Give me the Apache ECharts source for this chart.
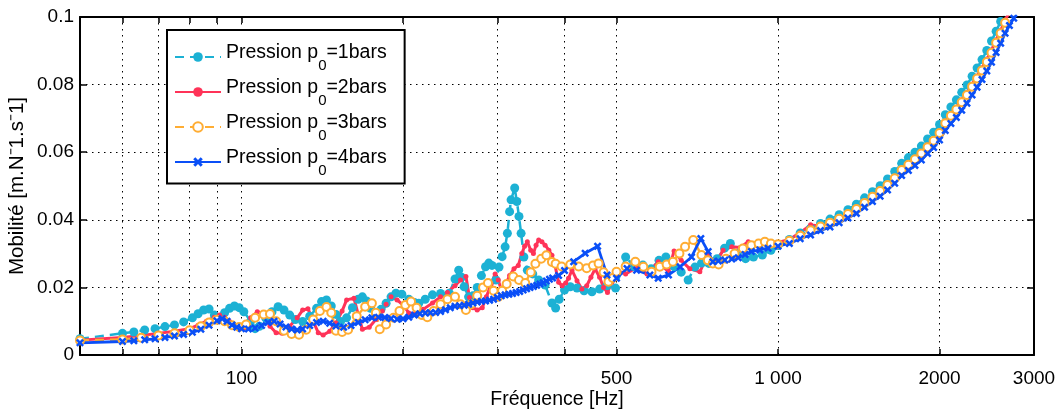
<!DOCTYPE html>
<html><head><meta charset="utf-8">
<script src="https://cdn.jsdelivr.net/npm/echarts@6/dist/echarts.min.js"></script>
<style>html,body{margin:0;padding:0;background:#fff}#c{width:1063px;height:410px}</style>
</head><body><div id="c"></div>
<script>
// [frequency Hz, mobility]
const p1bar = [[50,.0048],[60,.0064],[63,.0068],[66,.0074],[69,.0078],[72,.0084],[75,.0089],[78,.0098],[81,.0110],[83,.0122],[85,.0133],[87,.0136],[89,.0118],[91,.0110],[93,.0125],[95,.0138],[97,.0145],[99,.0140],[101,.0128],[104,.0100],[106,.0078],[108,.0085],[111,.0109],[114,.0128],[117,.0143],[120,.0133],[123,.0118],[126,.0105],[130,.0099],[134,.0115],[138,.0138],[141,.0158],[144,.0163],[147,.0145],[150,.0120],[153,.0099],[157,.0110],[161,.0140],[165,.0165],[168,.0172],[171,.0160],[174,.0138],[178,.0118],[182,.0135],[186,.0153],[190,.0172],[194,.0183],[199,.0180],[205,.0165],[210,.0155],[214,.0153],[220,.0165],[227,.0178],[235,.0182],[244,.0183],[250,.0225],[254,.0251],[257,.0230],[260,.0202],[265,.0172],[270,.0175],[275,.0200],[280,.0235],[285,.0261],[289,.0272],[293,.0265],[298,.0222],[302,.0260],[306,.0291],[310,.0320],[313,.0360],[316,.0424],[318,.0459],[323,.0494],[326,.0454],[329,.0410],[332,.0360],[336,.0290],[341,.0251],[349,.0240],[358,.0222],[368,.0207],[379,.0154],[385,.0139],[391,.0165],[400,.0192],[410,.0202],[422,.0198],[435,.0190],[450,.0187],[465,.0195],[480,.0205],[498,.0198],[520,.0290],[540,.0262],[560,.0266],[580,.0255],[600,.0280],[618,.0290],[640,.0262],[660,.0245],[680,.0222],[700,.0260],[720,.0272],[743,.0271],[770,.0285],[795,.0316],[815,.0330],[840,.0300],[870,.0285],[900,.0290],[935,.0296],[970,.0310],[1000,.0324],[1050,.0342],[1100,.0361],[1150,.0375],[1200,.0389],[1250,.0402],[1300,.0415],[1350,.0430],[1400,.0446],[1450,.0465],[1500,.0483],[1550,.0501],[1600,.0521],[1650,.0543],[1700,.0567],[1750,.0584],[1800,.0600],[1850,.0618],[1900,.0639],[1950,.0659],[2000,.0682],[2050,.0711],[2100,.0734],[2150,.0755],[2200,.0777],[2250,.0799],[2300,.0825],[2350,.0849],[2400,.0874],[2450,.0901],[2500,.0929],[2550,.0958],[2600,.0987],[2650,.1016]];
const p2bar = [[50,.0044],[60,.0052],[65,.0058],[70,.0064],[75,.0070],[80,.0078],[83,.0088],[86,.0100],[89,.0112],[91,.0118],[93,.0112],[95,.0099],[97,.0082],[99,.0078],[101,.0080],[104,.0110],[107,.0128],[110,.0122],[113,.0085],[116,.0066],[119,.0064],[123,.0085],[127,.0110],[130,.0133],[133,.0137],[136,.0100],[139,.0066],[142,.0059],[146,.0070],[150,.0095],[154,.0130],[157,.0163],[162,.0168],[165,.0120],[168,.0076],[173,.0082],[178,.0105],[183,.0130],[186,.0150],[190,.0172],[195,.0163],[201,.0145],[205,.0124],[210,.0122],[218,.0135],[227,.0154],[235,.0172],[242,.0185],[250,.0205],[256,.0222],[262,.0232],[266,.0170],[270,.0140],[275,.0133],[281,.0140],[286,.0172],[292,.0210],[297,.0240],[301,.0222],[305,.0192],[310,.0205],[316,.0235],[322,.0255],[328,.0265],[333,.0300],[337,.0322],[341,.0335],[346,.0310],[350,.0300],[354,.0325],[358,.0340],[363,.0335],[368,.0325],[374,.0310],[379,.0295],[384,.0265],[390,.0215],[396,.0205],[402,.0213],[407,.0227],[413,.0251],[422,.0220],[431,.0195],[440,.0205],[448,.0230],[456,.0255],[465,.0230],[473,.0200],[481,.0185],[490,.0215],[500,.0250],[520,.0240],[545,.0258],[570,.0240],[598,.0276],[625,.0246],[640,.0308],[660,.0280],[685,.0255],[715,.0246],[741,.0300],[763,.0268],[790,.0310],[820,.0320],[850,.0318],[880,.0335],[905,.0328],[931,.0330],[960,.0328],[1000,.0333],[1050,.0342],[1100,.0362],[1150,.0385],[1200,.0382],[1250,.0393],[1300,.0405],[1350,.0419],[1400,.0434],[1450,.0453],[1500,.0471],[1550,.0488],[1600,.0507],[1650,.0528],[1700,.0552],[1750,.0568],[1800,.0584],[1850,.0601],[1900,.0621],[1950,.0640],[2000,.0663],[2050,.0692],[2100,.0714],[2150,.0733],[2200,.0755],[2250,.0776],[2300,.0801],[2350,.0825],[2400,.0849],[2450,.0875],[2500,.0902],[2550,.0932],[2600,.0960],[2650,.0991],[2700,.1014]];
const p3bar = [[50,.0043],[60,.0046],[65,.0051],[70,.0058],[75,.0064],[80,.0073],[84,.0085],[87,.0096],[90,.0104],[93,.0100],[96,.0088],[99,.0083],[102,.0090],[106,.0110],[110,.0120],[113,.0121],[116,.0100],[120,.0072],[124,.0062],[128,.0060],[132,.0075],[136,.0105],[140,.0130],[144,.0142],[147,.0125],[150,.0072],[154,.0068],[158,.0075],[164,.0115],[170,.0143],[175,.0153],[178,.0125],[181,.0076],[186,.0090],[192,.0110],[197,.0130],[202,.0148],[207,.0158],[212,.0140],[217,.0118],[222,.0112],[228,.0130],[235,.0150],[242,.0165],[250,.0172],[256,.0150],[262,.0133],[268,.0150],[275,.0175],[282,.0200],[288,.0213],[295,.0190],[301,.0172],[306,.0190],[312,.0210],[321,.0232],[329,.0222],[338,.0213],[346,.0245],[353,.0270],[362,.0285],[370,.0295],[379,.0275],[385,.0270],[395,.0262],[410,.0268],[425,.0262],[440,.0257],[452,.0265],[463,.0271],[473,.0245],[483,.0217],[492,.0228],[500,.0246],[520,.0262],[542,.0276],[561,.0261],[581,.0246],[602,.0261],[620,.0268],[637,.0276],[655,.0300],[671,.0320],[695,.0340],[720,.0296],[740,.0280],[756,.0271],[775,.0268],[800,.0285],[830,.0300],[860,.0315],[892,.0325],[920,.0330],[945,.0335],[970,.0330],[1000,.0328],[1050,.0338],[1100,.0353],[1150,.0369],[1200,.0380],[1250,.0391],[1300,.0403],[1350,.0417],[1400,.0432],[1450,.0450],[1500,.0468],[1550,.0485],[1600,.0503],[1650,.0523],[1700,.0547],[1750,.0563],[1800,.0579],[1850,.0596],[1900,.0615],[1950,.0634],[2000,.0657],[2050,.0686],[2100,.0708],[2150,.0726],[2200,.0748],[2250,.0769],[2300,.0794],[2350,.0818],[2400,.0842],[2450,.0867],[2500,.0894],[2550,.0924],[2600,.0952],[2650,.0983],[2700,.1006],[2750,.1028]];
const p4bar = [[50,.0036],[60,.0040],[63,.0042],[66,.0045],[69,.0048],[72,.0052],[75,.0056],[78,.0061],[81,.0067],[84,.0076],[87,.0088],[90,.0101],[92,.0107],[94,.0100],[96,.0089],[98,.0082],[100,.0078],[103,.0077],[106,.0080],[109,.0087],[112,.0096],[115,.0100],[118,.0092],[121,.0083],[124,.0077],[127,.0074],[130,.0077],[134,.0087],[138,.0096],[142,.0100],[146,.0094],[150,.0086],[155,.0082],[160,.0087],[165,.0096],[170,.0104],[175,.0110],[180,.0112],[185,.0111],[190,.0108],[195,.0106],[200,.0107],[205,.0112],[210,.0118],[215,.0122],[220,.0124],[225,.0125],[230,.0126],[235,.0129],[240,.0134],[245,.0140],[250,.0144],[255,.0146],[260,.0147],[265,.0150],[270,.0154],[275,.0157],[280,.0159],[285,.0160],[290,.0162],[295,.0165],[300,.0170],[305,.0175],[310,.0178],[315,.0180],[320,.0182],[325,.0185],[330,.0188],[335,.0192],[340,.0196],[345,.0200],[350,.0203],[355,.0206],[360,.0210],[365,.0214],[370,.0219],[375,.0224],[380,.0228],[390,.0235],[400,.0250],[416,.0276],[437,.0301],[461,.0322],[480,.0237],[500,.0227],[523,.0256],[545,.0251],[577,.0237],[598,.0227],[625,.0237],[657,.0261],[690,.0290],[718,.0345],[741,.0306],[756,.0276],[774,.0278],[796,.0281],[820,.0284],[843,.0288],[868,.0297],[892,.0306],[925,.0311],[958,.0316],[1000,.0322],[1050,.0330],[1100,.0344],[1150,.0355],[1200,.0368],[1250,.0379],[1300,.0391],[1350,.0405],[1400,.0419],[1450,.0437],[1500,.0454],[1550,.0470],[1600,.0488],[1650,.0508],[1700,.0531],[1750,.0546],[1800,.0561],[1850,.0577],[1900,.0596],[1950,.0614],[2000,.0636],[2050,.0664],[2100,.0685],[2150,.0703],[2200,.0724],[2250,.0745],[2300,.0769],[2350,.0792],[2400,.0815],[2450,.0840],[2500,.0866],[2550,.0895],[2600,.0922],[2650,.0952],[2700,.0975],[2750,.0996],[2800,.1018]];

const seriesNames = ['Pression p0=1bars','Pression p0=2bars','Pression p0=3bars','Pression p0=4bars'];
const xTickValues = [60,70,80,90,100,200,300,400,500,1000,2000,3000];
const xLabelValues = [100,500,1000,2000,3000];

const FONT = 'Liberation Sans, Arial, Helvetica, sans-serif';
const cyan = '#1cb1d4', red = '#ff3358', orange = '#ffad33', blue = '#0a4ff7';
const xMark = 'path://M0,2.2L2.2,0L5,2.8L7.8,0L10,2.2L7.2,5L10,7.8L7.8,10L5,7.2L2.2,10L0,7.8L2.8,5Z';
const gridDots = {color:'#000', width:1, type:[1.5,4.5]};

const chart = echarts.init(document.getElementById('c'), null, {renderer:'canvas'});

function xAxisBase(pos){
  return {
    type:'log', logBase:10, min:50, max:3000, position:pos,
    axisLine:{show:true, onZero:false, lineStyle:{color:'#000', width:2}},
    axisTick:{show:true, inside:true, length:6, customValues:xTickValues, lineStyle:{color:'#000', width:1.5}},
    minorTick:{show:false}, minorSplitLine:{show:false}
  };
}
function yAxisBase(pos){
  return {
    type:'value', min:0, max:0.1, interval:0.02, position:pos,
    axisLine:{show:true, onZero:false, lineStyle:{color:'#000', width:2}},
    axisTick:{show:true, inside:true, length:7, lineStyle:{color:'#000', width:1.5}}
  };
}

const bottomX = Object.assign(xAxisBase('bottom'), {
  axisLabel:{show:true, customValues:xLabelValues, color:'#000', fontFamily:FONT, fontSize:19, margin:14,
    formatter: v => (Math.round(v) === 1000 ? '1 000' : String(Math.round(v)))},
  splitLine:{show:true, lineStyle:gridDots},
  name:'Fréquence [Hz]', nameLocation:'middle', nameGap:35, nameMoveOverlap:false,
  nameTextStyle:{color:'#000', fontFamily:FONT, fontSize:19.5}
});
const topX = Object.assign(xAxisBase('top'), {axisLabel:{show:false}, splitLine:{show:false}});
const leftY = Object.assign(yAxisBase('left'), {
  axisLabel:{show:true, color:'#000', fontFamily:FONT, fontSize:19, margin:6,
    formatter: v => String(+v.toFixed(2))},
  splitLine:{show:true, lineStyle:gridDots},
  name:'Mobilité [m.N⁻1.s⁻1]', nameLocation:'middle', nameGap:52, nameMoveOverlap:false,
  nameTextStyle:{color:'#000', fontFamily:FONT, fontSize:20.5}
});
const rightY = Object.assign(yAxisBase('right'), {axisLabel:{show:false}, splitLine:{show:false}});

const styles = [
  {color:cyan, symbol:'circle', size:9, type:[9,6], width:2.5},
  {color:red, symbol:'circle', size:5, type:'solid', width:3},
  {color:orange, symbol:'emptyCircle', size:8, type:[9,6], width:2.5},
  {color:blue, symbol:xMark, size:8, type:'solid', width:2.8}
];
const datasets = [p1bar, p2bar, p3bar, p4bar];

const series = datasets.map((d, i) => ({
  name: seriesNames[i], type:'line', xAxisIndex:0, yAxisIndex:0,
  data: d, symbol: styles[i].symbol, symbolSize: styles[i].size,
  showSymbol:true, showAllSymbol:true, clip:true,
  lineStyle:{color:styles[i].color, width:styles[i].width, type:styles[i].type},
  itemStyle: styles[i].symbol === 'emptyCircle'
    ? {color:styles[i].color, borderColor:styles[i].color, borderWidth:2.2}
    : {color:styles[i].color, borderWidth:0},
  emphasis:{disabled:true}
}));

chart.setOption({
  animation:false,
  backgroundColor:'#fff',
  grid:{left:80, right:29, top:17, bottom:55, containLabel:false, outerBoundsMode:'none'},
  xAxis:[bottomX, topX],
  yAxis:[leftY, rightY],
  legend:{
    orient:'vertical', left:167, top:30, itemWidth:46, itemHeight:12, itemGap:4.5,
    backgroundColor:'#fff', borderColor:'#000', borderWidth:2, borderRadius:0,
    padding:[13,18,5,7], selectedMode:false,
    data: seriesNames,
    textStyle:{color:'#000', fontFamily:FONT, fontSize:19.5,
      rich:{a:{fontFamily:FONT, fontSize:19.5, color:'#000', padding:[0,0,8,0]},
            s:{fontFamily:FONT, fontSize:15, color:'#000', padding:[18,0,0,0]}}},
    formatter: n => '{a|' + n.replace('p0', 'p}{s|0}{a|') + '}'
  },
  series
});
</script></body></html>
